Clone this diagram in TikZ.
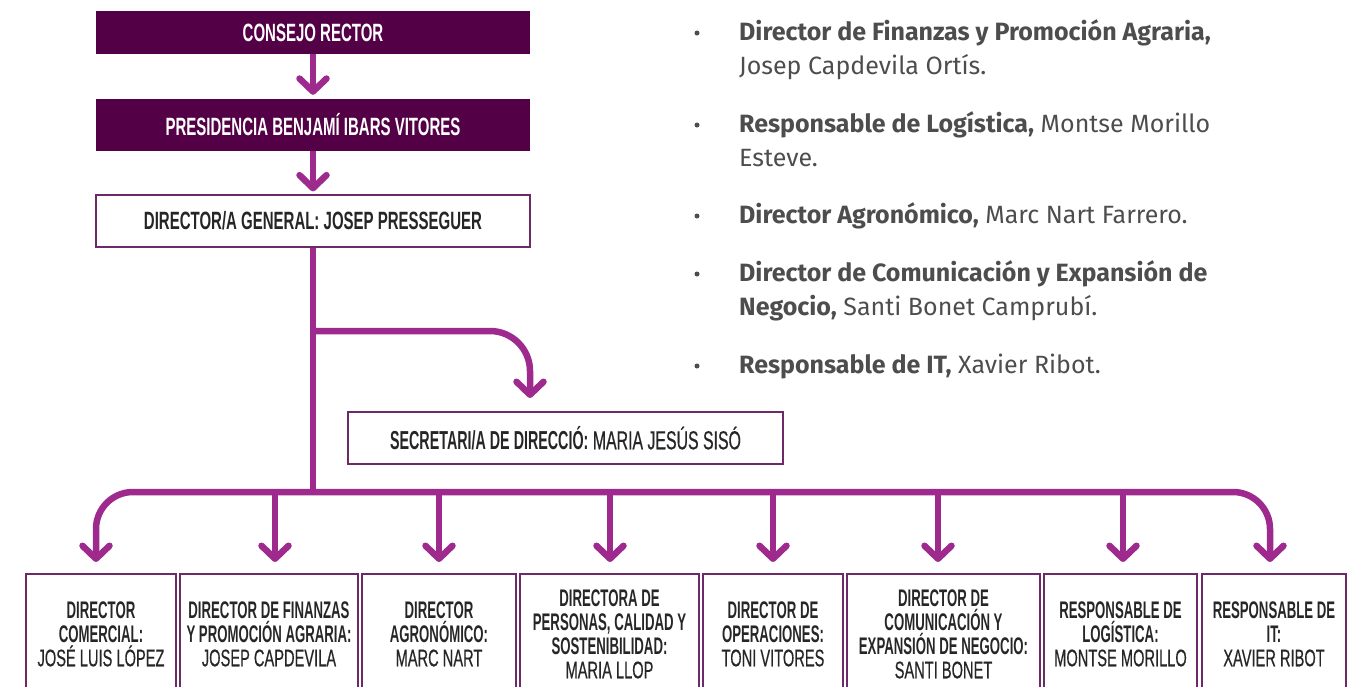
\documentclass[tikz,border=0pt]{standalone}
\usepackage{fontspec}
\setmainfont{Fira Sans}
\newfontfamily\condtop[FakeStretch=0.6]{Liberation Sans}
\newfontfamily\condbold[FakeStretch=0.55]{Liberation Sans}
\newfontfamily\condreg[FakeStretch=0.61,FakeBold=0.4]{Liberation Sans}
\newcommand\bt[1]{{\condbold\bfseries #1}}
\newcommand\nm[1]{{\condreg #1}}
\usetikzlibrary{arrows.meta}
\definecolor{dpurple}{HTML}{540046}
\definecolor{lpurple}{HTML}{9E2A8E}
\definecolor{bbord}{HTML}{6E2A66}
\definecolor{txt}{HTML}{262626}
\definecolor{gtxt}{HTML}{4D4D4D}
\begin{document}
\begin{tikzpicture}[x=1pt,y=-1pt,
  conn/.style={draw=lpurple,line width=6.5pt},
  arrowed/.style={-{Straight Barb[length=13pt,width=27pt,round]}},
  topbox/.style={fill=dpurple,draw=none,minimum width=434,inner sep=0,text=white,
    font=\condtop\bfseries\fontsize{25}{27}\selectfont},
  whitebox/.style={fill=white,draw=bbord,line width=1.2pt,minimum height=52,inner sep=0,text=txt,
    font=\fontsize{25}{27}\selectfont},
  lowbox/.style={fill=white,draw=bbord,line width=1.5pt,minimum height=120,inner sep=0,text=txt,
    align=center,font=\fontsize{24}{24}\selectfont},
  item/.style={anchor=base west,inner sep=0,text=gtxt,font=\fontsize{25}{28}\selectfont},
  dot/.style={circle,fill=gtxt,inner sep=0,minimum size=5}]
\useasboundingbox (0,0) rectangle (1366,686);
\clip (0,0) rectangle (1366,686);
% top chain
\node[topbox,minimum height=43] (cons) at (313,32.5) {CONSEJO RECTOR};
\node[topbox,minimum height=52] (pres) at (313,125) {PRESIDENCIA BENJAMÍ IBARS VITORES};
\node[whitebox,minimum width=434] (gen) at (313,221) {{\condtop\bfseries DIRECTOR/A GENERAL: JOSEP PRESSEGUER}};
\node[whitebox,minimum width=435,font=\fontsize{26}{28}\selectfont] (sec) at (565.5,438) {\bt{SECRETARI/A DE DIRECCIÓ:}\nm{ MARIA JESÚS SISÓ}};
\draw[conn,arrowed,shorten >=4pt] (cons.south) -- (pres.north);
\draw[conn,arrowed,shorten >=3pt] (pres.south) -- (gen.north);
% bottom boxes
\node[lowbox,minimum width=150] (b1) at (101,634) {\bt{DIRECTOR}\\\bt{COMERCIAL:}\\\nm{JOSÉ LUIS LÓPEZ}};
\node[lowbox,minimum width=178] (b2) at (269,634) {\bt{DIRECTOR DE FINANZAS}\\\bt{Y PROMOCIÓN AGRARIA:}\\\nm{JOSEP CAPDEVILA}};
\node[lowbox,minimum width=154] (b3) at (439,634) {\bt{DIRECTOR}\\\bt{AGRONÓMICO:}\\\nm{MARC NART}};
\node[lowbox,minimum width=179] (b4) at (609.5,634) {\bt{DIRECTORA DE}\\\bt{PERSONAS, CALIDAD Y}\\\bt{SOSTENIBILIDAD:}\\\nm{MARIA LLOP}};
\node[lowbox,minimum width=140] (b5) at (773,634) {\bt{DIRECTOR DE}\\\bt{OPERACIONES:}\\\nm{TONI VITORES}};
\node[lowbox,minimum width=193] (b6) at (943.5,634) {\bt{DIRECTOR DE}\\\bt{COMUNICACIÓN Y}\\\bt{EXPANSIÓN DE NEGOCIO:}\\\nm{SANTI BONET}};
\node[lowbox,minimum width=153] (b7) at (1120.5,634) {\bt{RESPONSABLE DE}\\\bt{LOGÍSTICA:}\\\nm{MONTSE MORILLO}};
\node[lowbox,minimum width=144] (b8) at (1274,634) {\bt{RESPONSABLE DE}\\\bt{IT:}\\\nm{XAVIER RIBOT}};
% connector coordinates
\coordinate (bus) at (313,492);
\coordinate (sbr) at (313,331);
\coordinate (ts) at (530,398);
\coordinate (t1) at (96,562);
\coordinate (t2) at (275,562);
\coordinate (t3) at (439,562);
\coordinate (t4) at (610,562);
\coordinate (t5) at (773,562);
\coordinate (t6) at (938,562);
\coordinate (t7) at (1123,562);
\coordinate (t8) at (1270,562);
% connectors
\draw[conn] (gen.south) -- (bus);
\draw[conn,arrowed,rounded corners=40] (sbr) -| (ts);
\draw[conn,arrowed,rounded corners=37] (bus) -| (t1);
\draw[conn,arrowed,rounded corners=37] (bus) -| (t8);
\foreach \t in {t2,t3,t4,t5,t6,t7}{\draw[conn,arrowed] (\t |- bus) -- (\t);}
% bullet list
\node[dot] (d1) at (697,33) {};
\node[dot] (d2) at (697,125) {};
\node[dot] (d3) at (697,216) {};
\node[dot] (d4) at (697,274) {};
\node[dot] (d5) at (697,366) {};
\node[item] (l1) at (739,40) {\textbf{Director de Finanzas y Promoción Agraria,}};
\node[item] (l2) at (739,74) {Josep Capdevila Ortís.};
\node[item] (l3) at (739,132) {\textbf{Responsable de Logística,} Montse Morillo};
\node[item] (l4) at (739,166) {Esteve.};
\node[item] (l5) at (739,223) {\textbf{Director Agronómico,} Marc Nart Farrero.};
\node[item] (l6) at (739,281) {\textbf{Director de Comunicación y Expansión de}};
\node[item] (l7) at (739,315) {\textbf{Negocio,} Santi Bonet Camprubí.};
\node[item] (l8) at (739,373) {\textbf{Responsable de IT,} Xavier Ribot.};
\end{tikzpicture}
\end{document}
